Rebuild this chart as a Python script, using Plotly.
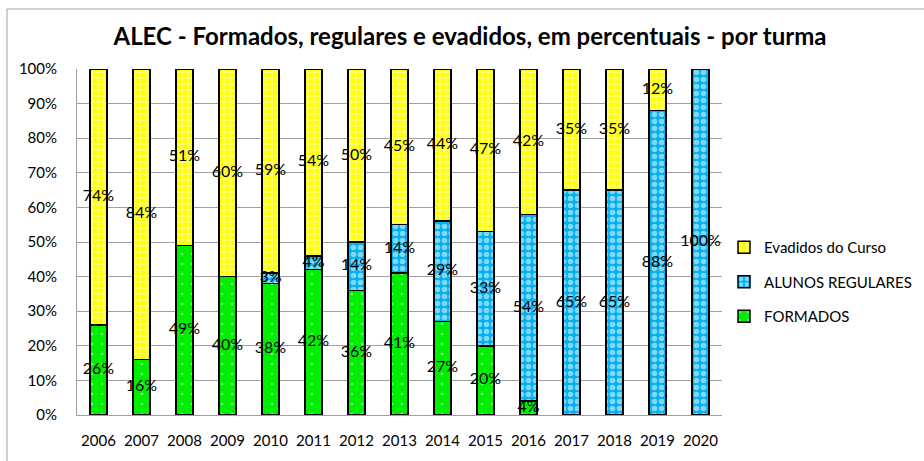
import plotly.graph_objects as go

anos = ['2006', '2007', '2008', '2009', '2010', '2011', '2012', '2013',
        '2014', '2015', '2016', '2017', '2018', '2019', '2020']
formados = [26, 16, 49, 40, 38, 42, 36, 41, 27, 20, 4, 0, 0, 0, 0]
regulares = [0, 0, 0, 0, 3, 4, 14, 14, 29, 33, 54, 65, 65, 88, 100]
evadidos = [74, 84, 51, 60, 59, 54, 50, 45, 44, 47, 42, 35, 35, 12, 0]

FONTE = 'Lato'
L, R, T, B = 77, 202, 69, 46
W, H = 924, 461
pw, ph = W - L - R, H - T - B

series = [
    ('FORMADOS', formados, '#00EE00', 3,
     dict(shape='.', fgcolor='white', size=10, solidity=0.05, fillmode='overlay')),
    ('ALUNOS REGULARES', regulares, '#00B0F0', 2,
     dict(shape='.', fgcolor='white', size=7, solidity=0.5, fillmode='overlay')),
    ('Evadidos do Curso', evadidos, '#FFFF00', 1,
     dict(shape='+', fgcolor='white', size=6, solidity=0.4, fillmode='overlay')),
]

fig = go.Figure()
base = [0] * len(anos)
rotulos_x, rotulos_y, rotulos_t = [], [], []
for nome, vals, cor, rank, pat in series:
    fig.add_trace(go.Bar(
        x=anos, y=vals, name=nome, width=0.4, legendgroup=nome, legendrank=rank,
        marker=dict(color=cor, pattern=pat, line=dict(color='black', width=1.5)),
    ))
    for i, v in enumerate(vals):
        if v > 0:
            rotulos_x.append(anos[i])
            rotulos_y.append(base[i] + v / 2)
            rotulos_t.append(f'{v}%')
        base[i] += v

fig.add_trace(go.Scatter(
    x=rotulos_x, y=rotulos_y, text=rotulos_t, mode='text',
    textfont=dict(family=FONTE, size=16, color='black'),
    showlegend=False, hoverinfo='skip',
))

fig.update_layout(
    barmode='stack',
    width=W, height=H,
    margin=dict(l=L, r=R, t=T, b=B),
    paper_bgcolor='white', plot_bgcolor='white',
    font=dict(family=FONTE, size=14, color='black'),
    title=dict(text='<b>ALEC - Formados, regulares e evadidos, em percentuais - por turma</b>',
               x=(470 - L) / pw, xref='paper', xanchor='center',
               y=(H - 37) / H, yanchor='middle', yref='container',
               font=dict(family=FONTE, size=24, color='black')),
    legend=dict(x=724 / W, y=1 - 282 / H, xref='container', yref='container',
                xanchor='left', yanchor='middle',
                traceorder='grouped', tracegroupgap=12,
                font=dict(family=FONTE, size=15, color='black')),
    showlegend=True,
    shapes=[dict(type='rect', xref='paper', yref='paper',
                 x0=(7 - L) / pw, x1=(935 - L) / pw,
                 y0=(415 - 470) / ph, y1=(415 - 9) / ph,
                 line=dict(color='#A0A0A0', width=1), fillcolor='rgba(0,0,0,0)', layer='below')],
)

fig.update_xaxes(range=[-0.5, 14.5], showline=True, linecolor='#A0A0A0', showgrid=False,
                 ticks='', tickfont=dict(family=FONTE, size=15), ticklabelstandoff=12,
                 automargin=False)
fig.update_yaxes(range=[0, 100], dtick=10, ticksuffix='%', showline=True, linecolor='#A0A0A0',
                 gridcolor='#A0A0A0', gridwidth=1, zeroline=False, ticks='',
                 tickfont=dict(family=FONTE, size=15), ticklabelstandoff=16,
                 automargin=False)

# margem padrão do body desloca o gráfico 8px
fig.write_html('out.html', config={'displayModeBar': False},
               post_script="document.body.style.margin='0';")
